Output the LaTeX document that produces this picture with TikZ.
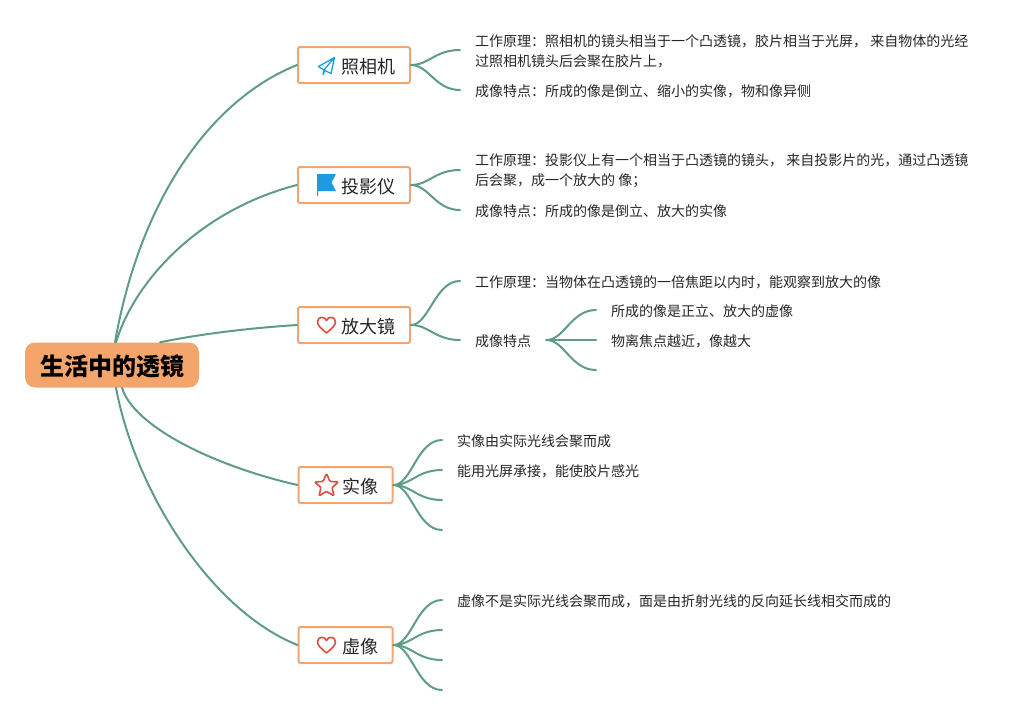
\documentclass[tikz,border=0pt]{standalone}
\usepackage{fontspec}
\setmainfont{Noto Sans CJK SC}
\definecolor{linkc}{HTML}{5F9C88}
\definecolor{boxc}{HTML}{EFA672}
\definecolor{rootc}{HTML}{F4A56B}
\definecolor{txt}{HTML}{262626}
\definecolor{iconb}{HTML}{1E9BE0}
\definecolor{iconr}{HTML}{D9503F}
\newcommand{\lowered}[1]{\raisebox{-1.5pt}[\height][\depth]{#1}}
\tikzset{
  link/.style={draw=linkc,line width=2pt,line cap=round},
  rootbox/.style={rectangle,rounded corners=10pt,fill=rootc,minimum width=174pt,minimum height=45pt,inner sep=0pt,font=\fontsize{24}{28}\selectfont\bfseries,text=black},
  topic/.style={rectangle,rounded corners=2pt,draw=boxc,line width=2pt,fill=white,minimum height=36pt,inner ysep=0pt,font=\fontsize{18}{22}\selectfont,text=txt},
  wide/.style={minimum width=112pt,text width=82pt,inner xsep=15pt,align=right},
  narrow/.style={minimum width=94pt,text width=65pt,inner xsep=14.5pt,align=right},
  leaf/.style={anchor=west,inner xsep=15pt,inner ysep=0pt,font=\fontsize{14}{20}\selectfont,text=txt,align=left},
  iconblue/.style={draw=iconb,line width=1.3pt,line join=round},
  iconred/.style={draw=iconr,line width=1.6pt,line join=round},
}
\begin{document}
\begin{tikzpicture}[x=1pt,y=-1pt]
\useasboundingbox (0,0) rectangle (1035,715);

\node[rootbox] (root) at (112,365) {\lowered{生活中的透镜}};

\node[topic,wide] (cam) at (354,65) {\lowered{照相机}};
\node[topic,wide] (proj) at (354,185) {\lowered{投影仪}};
\node[topic,wide] (mag) at (354,325) {\lowered{放大镜}};
\node[topic,narrow] (real) at (345.5,485) {\lowered{实像}};
\node[topic,narrow] (virt) at (345.5,645) {\lowered{虚像}};

% leaf texts sit 1px under their link ends
\node[leaf] (cam1) at (460,51) {工作原理：照相机的镜头相当于一个凸透镜，胶片相当于光屏， 来自物体的光经\\过照相机镜头后会聚在胶片上，};
\node[leaf] (cam2) at (460,91) {成像特点：所成的像是倒立、缩小的实像，物和像异侧};
\node[leaf] (proj1) at (460,171) {工作原理：投影仪上有一个相当于凸透镜的镜头， 来自投影片的光，通过凸透镜\\后会聚，成一个放大的 像；};
\node[leaf] (proj2) at (460,211) {成像特点：所成的像是倒立、放大的实像};
\node[leaf] (mag1) at (460,282) {工作原理：当物体在凸透镜的一倍焦距以内时，能观察到放大的像};
\node[leaf] (mag2) at (460,341) {成像特点};
\node[leaf] (mag21) at (596,311) {所成的像是正立、放大的虚像};
\node[leaf] (mag22) at (596,341) {物离焦点越近，像越大};
\coordinate (mag23) at (596,371);
\node[leaf] (real1) at (442,441) {实像由实际光线会聚而成};
\node[leaf] (real2) at (442,471) {能用光屏承接，能使胶片感光};
\coordinate (real3) at (442,501);
\coordinate (real4) at (442,531);
\node[leaf] (virt1) at (442,601) {虚像不是实际光线会聚而成，面是由折射光线的反向延长线相交而成的};
\coordinate (virt2) at (442,631);
\coordinate (virt3) at (442,661);
\coordinate (virt4) at (442,691);

% root links
\draw[link] ([xshift=3pt]root.north) .. controls (140,200) and (210,100) .. (cam.west);
\draw[link] ([xshift=4pt]root.north) .. controls (135,280) and (200,210) .. (proj.west);
\draw[link] ([xshift=48pt]root.north) .. controls (200,334) and (250,328) .. (mag.west);
\draw[link] ([xshift=10pt]root.south) .. controls (133,425) and (210,465) .. (real.west);
\draw[link] ([xshift=4pt]root.south) .. controls (135,490) and (210,610) .. (virt.west);

% topic links
\foreach \a/\b in {cam/cam1,cam/cam2,proj/proj1,proj/proj2,mag/mag1,mag/mag2,real/real1,real/real2,real/real3,real/real4,virt/virt1,virt/virt2,virt/virt3,virt/virt4}
  \draw[link] (\a.east) .. controls +(18,0) and +(-25,0) .. ([yshift=1pt]\b.west);
\foreach \b in {mag21,mag22,mag23}
  \draw[link] ([yshift=1pt]mag2.east) .. controls +(18,0) and +(-25,0) .. ([yshift=1pt]\b.west);

% icons
\draw[iconblue] (334.5,57.5) -- (318.5,66.5) -- (324,70) -- (334.5,57.5) -- (331,73.5) -- (325,70.5) -- (323,74.5) -- (324,70);
\fill[iconb] (317,174) -- (336,174) -- (331.5,182.5) -- (336,191) -- (318,191) -- (318,196) -- (317,196) -- cycle;
\foreach \cx/\cy in {326.5/325,326.5/645}
  \draw[iconred,shift={(\cx,\cy)}] (0,8) .. controls (-5,3.5) and (-9,0.5) .. (-9,-3) .. controls (-9,-9) and (-1.5,-9) .. (0,-4.5) .. controls (1.5,-9) and (9,-9) .. (9,-3) .. controls (9,0.5) and (5,3.5) .. (0,8) -- cycle;
\draw[iconred,shift={(326.5,485.5)},rounded corners=1.2pt] (0,-12) -- (3.4,-4) -- (12,-3.6) -- (5.5,2) -- (7.6,10.5) -- (0,5.8) -- (-7.6,10.5) -- (-5.5,2) -- (-12,-3.6) -- (-3.4,-4) -- cycle;
\end{tikzpicture}
\end{document}
